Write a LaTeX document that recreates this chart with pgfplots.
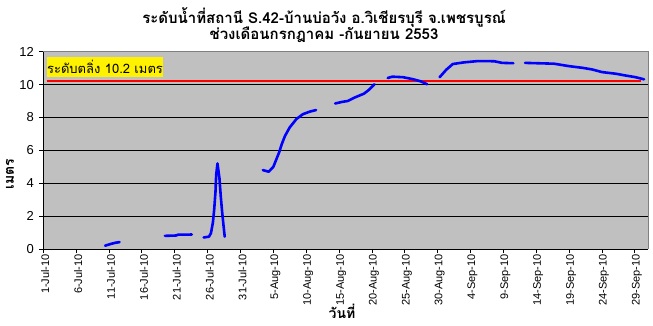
\documentclass[border=0pt]{standalone}
\usepackage{pgfplots}
\usepackage{pgfplotstable}
\pgfplotsset{compat=1.18}
\usepackage{fontspec}
\setmainfont{Liberation Sans}
\newfontfamily\thaifont[Script=Thai]{Loma}
\definecolor{bgray}{RGB}{192,192,192}
\definecolor{fgray}{RGB}{128,128,128}
\pgfplotstableread{
x y
9.4 0.2
10.2 0.3
11.0 0.38
11.6 0.42
nan nan
18.5 0.8
20.2 0.82
20.5 0.87
22.6 0.88
nan nan
24.4 0.7
25.2 0.75
25.5 0.95
25.8 1.6
26.0 2.4
26.2 3.5
26.3 4.5
26.5 5.2
26.8 4.3
27.0 3.2
27.2 2.3
27.4 1.5
27.6 0.75
nan nan
33.4 4.8
34.3 4.7
35.0 5.0
35.5 5.5
35.9 5.9
36.3 6.4
36.8 6.9
37.5 7.4
38.5 7.9
39.5 8.2
40.5 8.35
41.5 8.45
nan nan
44.4 8.85
45.5 8.95
46.3 9.0
47.3 9.2
48.8 9.45
49.6 9.7
50.4 10.02
nan nan
52.4 10.4
53.1 10.48
54.7 10.45
56.2 10.33
57.4 10.2
58.4 10.02
nan nan
60.3 10.45
61.3 10.9
62.3 11.25
64.0 11.35
66.1 11.43
68.6 11.42
69.8 11.32
71.5 11.3
nan nan
73.3 11.32
77.7 11.27
80.0 11.12
82.0 11.02
83.5 10.92
85.0 10.76
87.1 10.66
88.6 10.55
90.1 10.45
91.4 10.32
}\level
\begin{document}
\begin{tikzpicture}[x=1pt,y=1pt]
\useasboundingbox (0,0) rectangle (653,326);
\begin{axis}[
  at={(43.3pt,77pt)}, anchor=south west,
  scale only axis, width=604.7pt, height=197.3pt,
  xmin=0, xmax=92, ymin=0, ymax=12,
  axis background/.style={fill=bgray},
  axis x line*=bottom, axis y line*=left,
  axis line style={black, line width=0.8pt},
  xtick={0,5,...,90},
  xticklabels={1-Jul-10,6-Jul-10,11-Jul-10,16-Jul-10,21-Jul-10,26-Jul-10,31-Jul-10,5-Aug-10,10-Aug-10,15-Aug-10,20-Aug-10,25-Aug-10,30-Aug-10,4-Sep-10,9-Sep-10,14-Sep-10,19-Sep-10,24-Sep-10,29-Sep-10},
  ytick={0,2,...,12},
  tick align=outside,
  major tick length=4pt,
  tick style={black, line width=0.8pt},
  ymajorgrids,
  major grid style={black, line width=0.8pt},
  /pgf/number format/assume math mode=true,
  x tick label style={rotate=90, anchor=east, font=\fontsize{11}{12}\selectfont, inner sep=1pt, yshift=-2pt},
  y tick label style={font=\fontsize{13}{14}\selectfont, xshift=-2pt},
  unbounded coords=jump,
  clip=false,
]
\addplot[red, line width=2pt] coordinates {(0.5,10.2) (91,10.2)};
\addplot[blue, line width=2.6pt, line join=round, line cap=round] table {\level};
\draw[fgray, line width=0.8pt] (rel axis cs:0,1) -- (rel axis cs:1,1) -- (rel axis cs:1,0);
\end{axis}
\node[fill=yellow, minimum width=116.6pt, minimum height=20.6pt, inner sep=0pt, font=\thaifont\fontsize{13}{15}\selectfont] at (105,259) {ระดับตลิ่ง 10.2 เมตร};
\node[font=\thaifont\bfseries\fontsize{15}{17}\selectfont] at (324,308) {ระดับน้ำที่สถานี S.42-บ้านบ่อวัง อ.วิเชียรบุรี จ.เพชรบูรณ์};
\node[font=\thaifont\bfseries\fontsize{15}{17}\selectfont] at (324,291) {ช่วงเดือนกรกฎาคม -กันยายน 2553};
\node[font=\thaifont\bfseries\fontsize{14}{16}\selectfont, rotate=90] at (10,152) {เมตร};
\node[font=\thaifont\bfseries\fontsize{14}{16}\selectfont] at (342,15) {วันที่};
\end{tikzpicture}
\end{document}
